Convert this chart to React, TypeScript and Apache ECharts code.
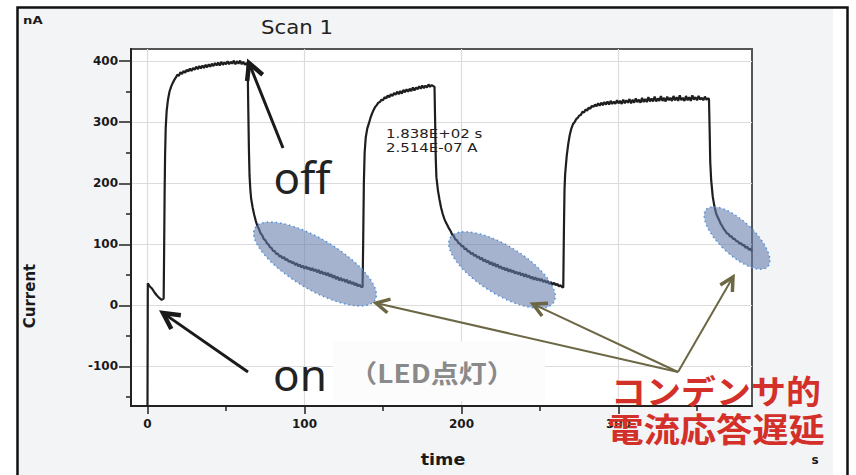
import React, { useEffect, useRef } from "react";
import * as echarts from "echarts";

// ---- data (time in s, current in nA) ----
const cycle1: [number, number][] = [
  [0, -170], [0.2, 36], [1.5, 31], [3, 27], [4.5, 21], [6, 16], [7.5, 12], [9, 9], [10.3, 11],
  [10.6, 90], [10.9, 180], [11.2, 245], [11.6, 290], [12.2, 318], [13, 336], [14, 350], [15, 358], [16, 364],
  [17, 369], [18, 373], [19, 378], [20, 376], [21, 382], [22, 379], [23, 384], [24, 381], [25, 386], [26, 383],
  [27, 388], [28, 384], [29, 389], [30, 386], [31, 391], [32, 387], [33, 392], [34, 388], [35, 393], [36, 389],
  [37, 394], [38, 390], [39, 395], [40, 391], [41, 396], [42, 392], [43, 397], [44, 393], [45, 398], [46, 393],
  [47, 399], [48, 394], [49, 398], [50, 395], [51, 400], [52, 395], [53, 399], [54, 396], [55, 401], [56, 395],
  [57, 400], [58, 396], [59, 401], [60, 395], [61, 399], [62, 394], [63, 397], [63.8, 393],
  [64.2, 320], [64.6, 255], [65, 212], [65.5, 190], [66, 175], [67, 160], [68, 148], [69, 138], [70, 130],
  [71, 125], [72, 118], [73, 115], [74, 109], [75, 107], [76, 102], [77, 100], [78, 95], [79, 94], [80, 89],
  [81, 89], [82, 84], [83, 85], [84, 80], [85, 81], [86, 77], [87, 79], [88, 74], [89, 76], [90, 71], [91, 73],
  [92, 69], [93, 71], [94, 66], [95, 69], [96, 64], [97, 67], [98, 62], [99, 65], [100, 60], [101, 64], [102, 59],
  [103, 62], [104, 57], [105, 61], [106, 56], [107, 59], [108, 54], [109, 58], [110, 52], [111, 56], [112, 51],
  [113, 54], [114, 49], [115, 53], [116, 47], [117, 51], [118, 45], [119, 49], [120, 43], [121, 47], [122, 41],
  [123, 45], [124, 40], [125, 43], [126, 38], [127, 42], [128, 36], [129, 40], [130, 35], [131, 38], [132, 33],
  [133, 36], [134, 31], [135, 34], [136, 30], [137, 30],
];

const cycle2: [number, number][] = [
  [137.4, 110], [137.8, 200], [138.3, 250], [139, 275], [140, 290], [141, 298], [142, 307], [143, 314],
  [144, 320], [145, 325], [146, 328], [147, 332], [148, 333], [149, 337], [150, 336], [151, 341], [152, 339],
  [153, 344], [154, 341], [155, 346], [156, 343], [157, 348], [158, 345], [159, 350], [160, 346], [161, 351],
  [162, 347], [163, 353], [164, 349], [165, 354], [166, 350], [167, 355], [168, 351], [169, 357], [170, 352],
  [171, 357], [172, 354], [173, 359], [174, 355], [175, 360], [176, 356], [177, 360], [178, 357], [179, 362],
  [180, 358], [181, 361], [182, 359], [182.8, 358],
  [183.2, 300], [183.6, 240], [184, 210], [185, 188], [186, 173], [187, 160], [188, 150], [189, 142], [190, 136],
  [191, 131], [192, 126], [193, 122], [194, 116], [195, 114], [196, 108], [197, 107], [198, 102], [199, 101],
  [200, 97], [201, 97], [202, 92], [203, 93], [204, 88], [205, 89], [206, 84], [207, 86], [208, 81], [209, 83],
  [210, 78], [211, 80], [212, 75], [213, 78], [214, 72], [215, 75], [216, 70], [217, 73], [218, 67], [219, 71],
  [220, 65], [221, 69], [222, 63], [223, 67], [224, 61], [225, 64], [226, 59], [227, 62], [228, 57], [229, 61],
  [230, 55], [231, 59], [232, 54], [233, 57], [234, 52], [235, 55], [236, 51], [237, 54], [238, 49], [239, 52],
  [240, 47], [241, 51], [242, 46], [243, 49], [244, 44], [245, 47], [246, 42], [247, 46], [248, 41], [249, 44],
  [250, 40], [251, 43], [252, 38], [253, 41], [254, 37], [255, 40], [256, 35], [257, 38], [258, 34], [259, 37],
  [260, 33], [261, 35], [262, 31], [263, 33], [264, 30], [264.8, 29],
];

const cycle3: [number, number][] = [
  [265.2, 120], [265.6, 190], [266, 215], [267, 245], [268, 265], [269, 280], [270, 290], [271, 297], [272, 300],
  [273, 305], [274, 307], [275, 311], [276, 312], [277, 317], [278, 316], [279, 321], [280, 319], [281, 324],
  [282, 322], [283, 327], [284, 325], [285, 329], [286, 326], [287, 331], [288, 327], [289, 332], [290, 328],
  [291, 333], [292, 329], [293, 334], [294, 329], [295, 335], [296, 330], [297, 334], [298, 330], [299, 336],
  [300, 331], [301, 335], [302, 330], [303, 337], [304, 331], [305, 336], [306, 332], [307, 338], [308, 331],
  [309, 337], [310, 332], [311, 339], [312, 333], [313, 337], [314, 332], [315, 340], [316, 333], [317, 338],
  [318, 333], [319, 341], [320, 334], [321, 339], [322, 334], [323, 342], [324, 334], [325, 339], [326, 335],
  [327, 343], [328, 335], [329, 340], [330, 334], [331, 342], [332, 336], [333, 340], [334, 335], [335, 343],
  [336, 336], [337, 341], [338, 335], [339, 344], [340, 336], [341, 340], [342, 335], [343, 343], [344, 336],
  [345, 341], [346, 335], [347, 344], [348, 337], [349, 341], [350, 336], [351, 343], [352, 337], [353, 340],
  [354, 336], [355, 342], [356, 337], [357, 339], [357.6, 338],
  [358, 290], [358.4, 235], [359, 205], [360, 178], [361, 163], [362, 152], [363, 145], [364, 140], [365, 134],
  [366, 130], [367, 125], [368, 122], [369, 118], [370, 117], [371, 113], [372, 113], [373, 109], [374, 109],
  [375, 105], [376, 105], [377, 101], [378, 102], [379, 98], [380, 99], [381, 94], [382, 96], [383, 91],
  [384, 93], [385, 88],
];

const xMajorTicks = [0, 100, 200, 300];
const xMinorTicks = [50, 150, 250, 350];
const yMajorTicks = [-100, 0, 100, 200, 300, 400];
const yMinorTicks = [-150, -50, 50, 150, 250, 350];

const X_MIN = -10.5;
const X_MAX = 385;
const Y_MIN = -165;
const Y_MAX = 420;

const AXIS_FONT = "DejaVu Sans";

function txt(x: number, y: number, text: string, o: any = {}) {
  return {
    type: "text",
    x,
    y,
    z: 100,
    rotation: o.rotation || 0,
    scaleX: o.scaleX || 1,
    style: {
      text,
      fill: o.color || "#1a1a1a",
      fontSize: o.size || 12,
      fontWeight: o.weight || "normal",
      fontFamily: o.family || AXIS_FONT,
      textAlign: o.align || "left",
      align: o.align || "left",
      textVerticalAlign: "middle",
      verticalAlign: "middle",
    },
  };
}

function arrow(
  x1: number, y1: number, x2: number, y2: number,
  color: string, w: number, head: number, headW: number
) {
  const ang = Math.atan2(y2 - y1, x2 - x1);
  const a = Math.PI / 6.5;
  const p1 = [x2 - head * Math.cos(ang - a), y2 - head * Math.sin(ang - a)];
  const p2 = [x2 - head * Math.cos(ang + a), y2 - head * Math.sin(ang + a)];
  const ex = x2 - 2 * Math.cos(ang);
  const ey = y2 - 2 * Math.sin(ang);
  return [
    { type: "line", z: 101, shape: { x1, y1, x2: ex, y2: ey }, style: { stroke: color, lineWidth: w } },
    {
      type: "polyline", z: 101,
      shape: { points: [p1, [x2, y2], p2] },
      style: { stroke: color, lineWidth: headW, fill: null, lineJoin: "miter" },
    },
  ];
}

function ell(cx: number, cy: number, rx: number, ry: number, deg: number) {
  return {
    type: "ellipse",
    x: cx,
    y: cy,
    rotation: (-deg * Math.PI) / 180,
    z: 100,
    shape: { cx: 0, cy: 0, rx, ry },
    style: {
      fill: "rgba(100,124,172,0.58)",
      stroke: "#4f92dc",
      lineWidth: 1.5,
      lineDash: [1.5, 3],
    },
  };
}

export default function App() {
  const ref = useRef<HTMLDivElement>(null);

  useEffect(() => {
    if (!ref.current) return;
    const chart = echarts.init(ref.current, null, { renderer: "svg", width: 856, height: 475 });

    const data = [...cycle1, ...cycle2, ...cycle3];
    const olive = "#6c6744";
    const black = "#1a1a1a";

    const option: any = {
      animation: false,
      backgroundColor: "#f3f4f6",
      grid: {
        left: 131, top: 49, width: 621, height: 357,
        show: true, backgroundColor: "#ffffff", borderColor: "#555555", borderWidth: 2,
      },
      xAxis: [
        {
          type: "value", min: X_MIN, max: X_MAX, position: "bottom",
          axisLine: { show: true, onZero: false, lineStyle: { color: "#222", width: 2 } },
          axisTick: { show: true, customValues: xMajorTicks, length: 8, lineStyle: { color: "#222", width: 1.5 } },
          axisLabel: {
            customValues: xMajorTicks, margin: 12, color: "#1a1a1a",
            fontFamily: AXIS_FONT, fontSize: 12, fontWeight: "bold",
          },
          splitLine: { show: true, lineStyle: { color: "#dcdcdc", width: 1.2 } },
        },
        {
          type: "value", min: X_MIN, max: X_MAX, position: "bottom",
          axisLine: { show: false, onZero: false },
          axisTick: { show: true, customValues: xMinorTicks, length: 5, lineStyle: { color: "#222", width: 1.5 } },
          axisLabel: { show: false },
          splitLine: { show: false },
        },
      ],
      yAxis: [
        {
          type: "value", min: Y_MIN, max: Y_MAX, position: "left",
          axisLine: { show: true, onZero: false, lineStyle: { color: "#222", width: 2 } },
          axisTick: { show: true, customValues: yMajorTicks, length: 12, lineStyle: { color: "#222", width: 1.5 } },
          axisLabel: {
            customValues: yMajorTicks, margin: 13, color: "#1a1a1a",
            fontFamily: AXIS_FONT, fontSize: 12, fontWeight: "bold",
            padding: [0, 0, 8, 0],
          },
          splitLine: { show: true, lineStyle: { color: "#dcdcdc", width: 1.2 } },
        },
        {
          type: "value", min: Y_MIN, max: Y_MAX, position: "left",
          axisLine: { show: false, onZero: false },
          axisTick: { show: true, customValues: yMinorTicks, length: 5, lineStyle: { color: "#222", width: 1.5 } },
          axisLabel: { show: false },
          splitLine: { show: false },
        },
      ],
      series: [
        {
          type: "line",
          xAxisIndex: 0,
          yAxisIndex: 0,
          data,
          showSymbol: false,
          symbol: "none",
          clip: true,
          lineStyle: { color: "#1e1e1e", width: 2.2 },
        },
      ],
      graphic: [
        // page frame
        { type: "rect", z: 100, shape: { x: 0, y: 0, width: 17, height: 475 }, style: { fill: "#ffffff" } },
        { type: "rect", z: 100, shape: { x: 0, y: 0, width: 856, height: 7 }, style: { fill: "#ffffff" } },
        { type: "rect", z: 100, shape: { x: 833, y: 0, width: 23, height: 475 }, style: { fill: "#ffffff" } },
        {
          type: "rect", z: 101, shape: { x: 17.5, y: 7.5, width: 830, height: 480 },
          style: { fill: null, stroke: "#111", lineWidth: 2.5 },
        },
        // label box
        { type: "rect", z: 99, shape: { x: 333, y: 341, width: 212, height: 60 }, style: { fill: "#fcfcfc" } },
        // titles and axis names
        txt(297, 27, "Scan 1", { size: 19, align: "center", scaleX: 1.12, color: "#222" }),
        txt(23, 20, "nA", { size: 11, weight: "bold", scaleX: 1.2 }),
        txt(30, 296, "Current", { size: 15, weight: "bold", align: "center", rotation: Math.PI / 2 }),
        txt(443, 459, "time", { size: 16, weight: "bold", align: "center", scaleX: 1.1 }),
        txt(815, 460, "s", { size: 12, weight: "bold", align: "center" }),
        // cursor readout
        txt(386, 133, "1.838E+02 s", { size: 13, scaleX: 1.15, color: "#222" }),
        txt(386, 147, "2.514E-07 A", { size: 13, scaleX: 1.15, color: "#222" }),
        // highlight ellipses
        ell(315, 264, 70, 25, 31),
        ell(502, 270, 61, 24, 32),
        ell(737, 238, 42, 17, 43),
        // arrows
        ...arrow(283, 148, 249, 63, black, 3, 18, 4.5),
        ...arrow(248, 372, 163, 313, black, 3, 18, 4.5),
        ...arrow(678, 372, 376, 303, olive, 2, 15, 3.5),
        ...arrow(678, 372, 533, 304, olive, 2, 15, 3.5),
        ...arrow(678, 372, 733, 277, olive, 2, 15, 3.5),
        // annotation texts
        txt(302, 177, "off", { size: 44, family: "Noto Sans", align: "center", color: "#222" }),
        txt(300, 374, "on", { size: 44, family: "Noto Sans", align: "center", color: "#222" }),
        txt(432, 372, "（LED点灯）", {
          size: 25, weight: "bold", family: "Noto Sans CJK JP", align: "center", color: "#8a8a8a", scaleX: 1.12,
        }),
        txt(716, 390, "コンデンサ的", {
          size: 33, weight: "bold", family: "Noto Sans CJK JP", align: "center", color: "#d3302a", scaleX: 1.06,
        }),
        txt(716, 428, "電流応答遅延", {
          size: 33, weight: "bold", family: "Noto Sans CJK JP", align: "center", color: "#d3302a", scaleX: 1.1,
        }),
      ],
    };

    chart.setOption(option);
    return () => chart.dispose();
  }, []);

  return (
    <div
      ref={ref}
      style={{ position: "fixed", left: 0, top: 0, width: 856, height: 475 }}
    />
  );
}
